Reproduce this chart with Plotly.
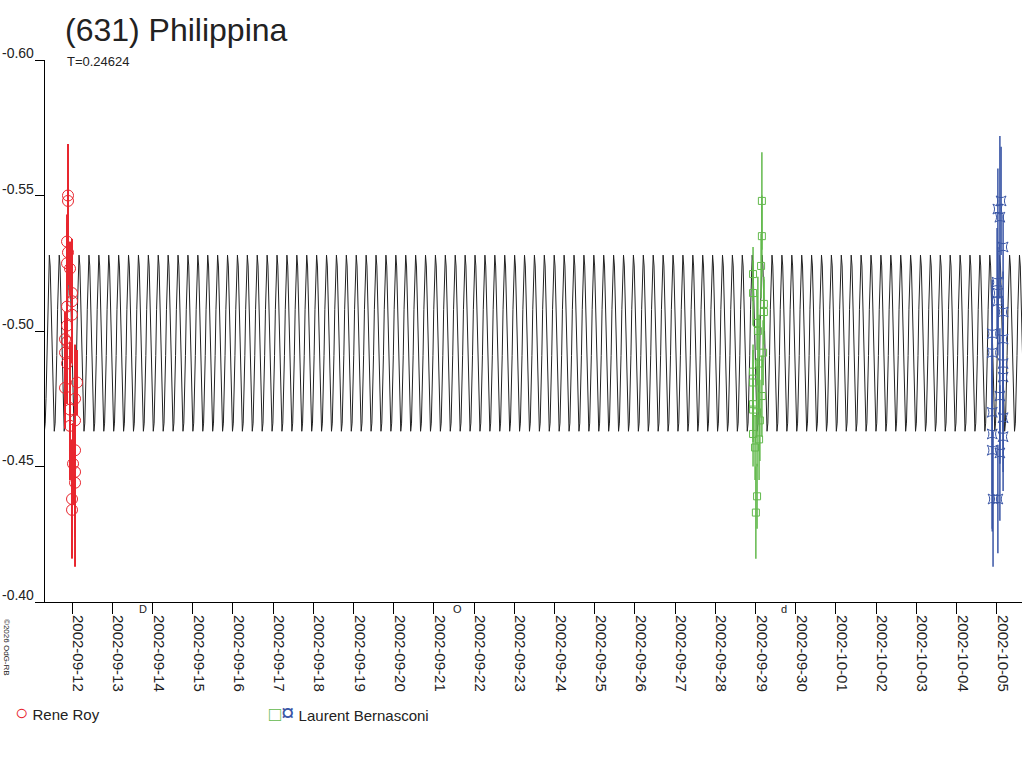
import numpy as np
import pandas as pd
import plotly.graph_objs as go

# reference epoch for all time offsets below (days)
BASE = pd.Timestamp("2002-09-12")

# model lightcurve: period and one cycle of the fitted shape
period = 0.24624
model_epoch = 5.838          # days after BASE, a brightness maximum
model_cycle = [-0.528, -0.524, -0.512, -0.495, -0.478, -0.467, -0.463,
               -0.466, -0.475, -0.491, -0.508, -0.521]

# Rene Roy (2002-09-11/12)
roy_t = [-0.100, -0.100, -0.124, -0.100, -0.124, -0.050, 0.000, 0.000, -0.124,
         0.000, -0.124, -0.174, -0.124, -0.174, -0.124, 0.124, -0.174, 0.075,
         -0.050, 0.075, -0.050, 0.075, 0.025, 0.075, 0.075, 0.000, 0.000]
roy_mag = [-0.550, -0.548, -0.533, -0.529, -0.525, -0.523, -0.514, -0.511, -0.509,
           -0.506, -0.502, -0.497, -0.496, -0.492, -0.488, -0.481, -0.479, -0.475,
           -0.471, -0.467, -0.465, -0.456, -0.451, -0.448, -0.444, -0.438, -0.434]
roy_err = [0.019, 0.012, 0.010, 0.012, 0.015, 0.010, 0.020, 0.015, 0.012,
           0.018, 0.015, 0.010, 0.020, 0.012, 0.015, 0.012, 0.015, 0.020,
           0.025, 0.015, 0.020, 0.018, 0.015, 0.035, 0.020, 0.022, 0.015]

# Laurent Bernasconi, session 1 (2002-09-28/29)
lb1_t = [17.16, 17.16, 17.14, 16.94, 16.94, 17.21, 17.21, 17.04, 17.19, 16.94,
         16.94, 17.16, 16.94, 16.94, 17.11, 16.94, 17.09, 16.99, 17.04, 17.01,
         17.06, 17.09, 17.04]
lb1_mag = [-0.548, -0.535, -0.524, -0.521, -0.514, -0.510, -0.507, -0.503, -0.492,
           -0.485, -0.481, -0.476, -0.473, -0.471, -0.467, -0.462, -0.460, -0.457,
           -0.439, -0.433, -0.500, -0.488, -0.470]
lb1_err = [0.018, 0.015, 0.012, 0.010, 0.012, 0.010, 0.012, 0.010, 0.012, 0.010,
           0.012, 0.015, 0.010, 0.012, 0.015, 0.012, 0.015, 0.012, 0.012, 0.017,
           0.020, 0.018, 0.020]

# Laurent Bernasconi, session 2 (2002-10-04/05)
lb2_t = [23.11, 23.03, 23.08, 23.16, 23.01, 23.03, 23.03, 23.16, 22.89, 23.16,
         22.89, 23.16, 23.16, 23.08, 22.89, 23.16, 22.89, 23.16, 22.89, 23.08,
         22.91, 23.03]
lb2_mag = [-0.548, -0.545, -0.542, -0.531, -0.518, -0.514, -0.511, -0.507, -0.499,
           -0.497, -0.492, -0.488, -0.483, -0.476, -0.470, -0.468, -0.462, -0.461,
           -0.456, -0.455, -0.438, -0.438]
lb2_err = [0.020, 0.015, 0.030, 0.012, 0.020, 0.015, 0.020, 0.015, 0.020, 0.015,
           0.025, 0.015, 0.020, 0.025, 0.030, 0.020, 0.035, 0.020, 0.030, 0.025,
           0.025, 0.020]

# moon phases shown under the axis
moon_t = [1.756, 9.583, 17.711]
moon_sym = ["D", "O", "d"]

ytick_vals = [-0.60, -0.55, -0.50, -0.45, -0.40]
ytick_text = ["-0.60", "-0.55", "-0.50", "-0.45", "-0.40"]

FONT = "Arial, Liberation Sans, sans-serif"
TXT = "#222222"
RED = "#e8262e"
GREEN = "#62b94c"
BLUE = "#3a56a6"


def to_dates(offsets):
    return BASE + pd.to_timedelta(np.asarray(offsets, dtype=float), unit="D")


# repeat the single model cycle over the whole window
n_before = int(np.ceil((model_epoch + 0.8) / period))
n_after = int(np.ceil((23.9 - model_epoch) / period))
phase = np.arange(len(model_cycle)) / len(model_cycle)
model_t = np.concatenate([model_epoch + (k + phase) * period
                          for k in range(-n_before, n_after)])
model_mag = np.tile(model_cycle, n_before + n_after)

data = [
    go.Scatter(x=to_dates(model_t), y=model_mag, mode="lines",
               line=dict(color="#222222", width=1), hoverinfo="skip"),
    go.Scatter(x=to_dates(roy_t), y=roy_mag, mode="markers", name="Rene Roy",
               marker=dict(symbol="circle-open", size=11, color=RED, line=dict(width=1)),
               error_y=dict(type="data", array=roy_err, color=RED, thickness=2, width=0)),
    go.Scatter(x=to_dates(lb1_t), y=lb1_mag, mode="markers", name="Laurent Bernasconi",
               marker=dict(symbol="square-open", size=7, color=GREEN, line=dict(width=1)),
               error_y=dict(type="data", array=lb1_err, color=GREEN, thickness=1.5, width=0)),
    go.Scatter(x=to_dates(lb2_t), y=lb2_mag, mode="markers", name="Laurent Bernasconi",
               marker=dict(symbol="star-square-open", size=9, color=BLUE, line=dict(width=1)),
               error_y=dict(type="data", array=lb2_err, color=BLUE, thickness=1.5, width=0)),
]

annotations = [
    dict(text="T=0.24624", xref="paper", yref="paper", x=20 / 977, y=1,
         xanchor="left", yanchor="middle", yshift=-1, showarrow=False,
         font=dict(size=13, color=TXT, family=FONT)),
    dict(text="<span style='color:%s;font-size:22px'>○</span> Rene Roy" % RED,
         xref="paper", yref="paper", x=-32 / 977, y=0, yshift=-110,
         xanchor="left", yanchor="middle", showarrow=False,
         font=dict(size=15, color=TXT, family=FONT)),
    dict(text="<span style='color:%s;font-size:20px'>□</span>"
         "<span style='color:%s;font-size:24px'>¤</span> Laurent Bernasconi" % (GREEN, BLUE),
         xref="paper", yref="paper", x=222 / 977, y=0, yshift=-110,
         xanchor="left", yanchor="middle", showarrow=False,
         font=dict(size=15, color=TXT, family=FONT)),
    dict(text="©2026 OdG-RB", xref="paper", yref="paper", x=-38 / 977, y=0,
         yshift=-45, xanchor="center", yanchor="middle", textangle=90,
         showarrow=False, font=dict(size=8, color=TXT, family=FONT)),
]
# y tick labels sit above their tick, to the left of the axis
for v, s in zip(ytick_vals, ytick_text):
    annotations.append(dict(text=s, xref="paper", yref="y", x=-9 / 977, y=v,
                            xanchor="right", yanchor="bottom", yshift=-3,
                            showarrow=False,
                            font=dict(size=14, color=TXT, family=FONT)))
for t, s in zip(to_dates(moon_t), moon_sym):
    annotations.append(dict(text=s, xref="x", yref="paper", x=t, y=0, yshift=-7,
                            xanchor="center", yanchor="middle", showarrow=False,
                            font=dict(size=11, color=TXT, family=FONT)))

layout = go.Layout(
    width=1024, height=768,
    paper_bgcolor="white", plot_bgcolor="white",
    margin=dict(l=45, r=2, t=60, b=166),
    showlegend=False,
    font=dict(family=FONT, color=TXT),
    title=dict(text="(631) Philippina", x=65 / 1024, xanchor="left",
               y=1 - 30 / 768, yanchor="middle",
               font=dict(size=32, color=TXT, family=FONT)),
    xaxis=dict(
        type="date", automargin=False,
        range=[to_dates([-0.672])[0], to_dates([23.63])[0]],
        tick0="2002-09-12", dtick=86400000, tickformat="%Y-%m-%d",
        tickangle=90, ticks="outside", ticklen=11, tickcolor="black",
        ticklabelshift=6, ticklabelstandoff=-2,
        showline=True, linecolor="black", linewidth=1,
        showgrid=False, zeroline=False,
        tickfont=dict(size=15, color=TXT, family=FONT),
    ),
    yaxis=dict(
        automargin=False,
        range=[-0.40, -0.60],
        tickvals=ytick_vals, showticklabels=False,
        ticks="outside", ticklen=9, tickcolor="black",
        showline=True, linecolor="black", linewidth=1,
        showgrid=False, zeroline=False,
    ),
    annotations=annotations,
)

fig = go.Figure(data=data, layout=layout)
# the page's default body margin would push the 1024x768 figure off by 8px
fig.write_html("out.html", config={"displayModeBar": False},
               post_script="document.body.style.margin = '0';")
